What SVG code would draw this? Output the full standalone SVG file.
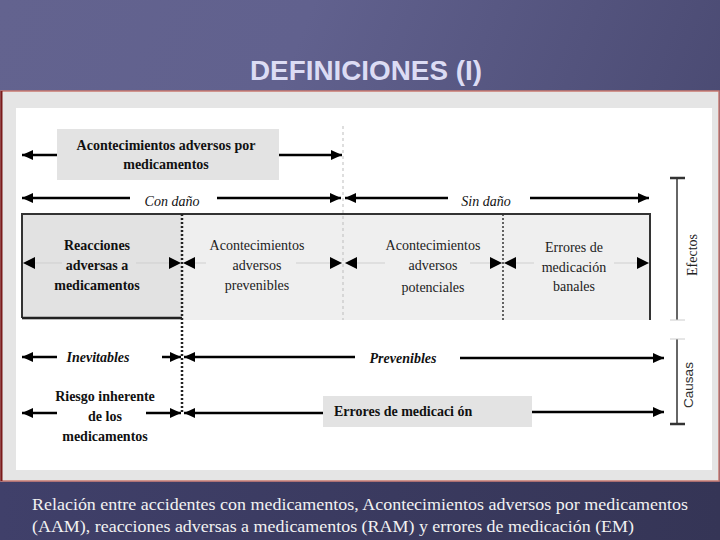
<svg xmlns="http://www.w3.org/2000/svg" width="720" height="540" viewBox="0 0 720 540">
<defs>
<linearGradient id="bg" x1="0" y1="0" x2="1" y2="0.3">
<stop offset="0" stop-color="#63638f"/>
<stop offset="0.4" stop-color="#61618e"/>
<stop offset="1" stop-color="#4a4a72"/>
</linearGradient>
<linearGradient id="bot" x1="0" y1="0" x2="1" y2="0">
<stop offset="0" stop-color="#40406a"/>
<stop offset="1" stop-color="#353556"/>
</linearGradient>
<marker id="ah" markerUnits="userSpaceOnUse" markerWidth="12" markerHeight="10" refX="11" refY="5" orient="auto-start-reverse">
<path d="M0,0 L11,5 L0,10 z" fill="#000"/>
</marker>
<marker id="ab" markerUnits="userSpaceOnUse" markerWidth="12" markerHeight="12" refX="12" refY="6" orient="auto-start-reverse">
<path d="M0,0 L12,6 L0,12 z" fill="#000"/>
</marker>
<style>
.thick{stroke:#000;stroke-width:2.5;fill:none}
.thin{stroke:#cfcfcf;stroke-width:1;fill:none}
.b{font-family:"Liberation Serif","Times New Roman",serif;font-weight:bold;font-size:14px;fill:#111;text-anchor:middle}
.r{font-family:"Liberation Serif","Times New Roman",serif;font-size:14px;fill:#222;text-anchor:middle}
.i{font-family:"Liberation Serif","Times New Roman",serif;font-style:italic;font-size:14px;fill:#111;text-anchor:middle}
.bi{font-family:"Liberation Serif","Times New Roman",serif;font-style:italic;font-weight:bold;font-size:14px;fill:#111;text-anchor:middle}
.cap{font-family:"Liberation Serif","Times New Roman",serif;font-size:16.5px;fill:#f2f2f2}
</style>
</defs>
<rect width="720" height="540" fill="url(#bg)"/>
<rect x="0" y="482" width="720" height="58" fill="url(#bot)"/>
<text x="366" y="80" font-family="'Liberation Sans',Arial,sans-serif" font-weight="bold" font-size="28" fill="#dcdcf4" text-anchor="middle" textLength="232" lengthAdjust="spacingAndGlyphs">DEFINICIONES (I)</text>
<!-- image frame -->
<rect x="1" y="91" width="718" height="390" fill="#e5e5e5" stroke="#c97a70" stroke-width="1.5"/>
<line x1="1.5" y1="91" x2="1.5" y2="481" stroke="#7a1a1a" stroke-width="2"/>
<rect x="16" y="108" width="696" height="362" fill="#ffffff"/>

<!-- main box backgrounds -->
<g id="box">
<rect x="22" y="214" width="628" height="106" fill="#efefef"/>
<rect x="22" y="214" width="160" height="104" fill="#e2e2e2"/>
<path d="M22,318 V214 H650 V320" fill="none" stroke="#333" stroke-width="2"/>
<line x1="22" y1="318" x2="182" y2="318" stroke="#222" stroke-width="2.5"/>
</g>

<g id="dividers">
<line x1="343" y1="126" x2="343" y2="320" stroke="#bdbdbd" stroke-width="1" stroke-dasharray="3,3"/>
<line x1="182" y1="214" x2="182" y2="413" stroke="#222" stroke-width="2.5" stroke-dasharray="2,2"/>
<line x1="503" y1="214" x2="503" y2="322" stroke="#333" stroke-width="1.5" stroke-dasharray="2,2"/>
</g>

<g id="aam">
<rect x="57" y="129" width="222" height="51" fill="#e3e3e3"/>
<text class="b" x="166" y="150">Acontecimientos adversos por</text>
<text class="b" x="166" y="169">medicamentos</text>
</g>

<g id="con-dano"><text class="i" x="172" y="206">Con daño</text></g>
<g id="sin-dano"><text class="i" x="486" y="206">Sin daño</text></g>

<g id="ram">
<text class="b" x="97" y="250">Reacciones</text>
<text class="b" x="97" y="270">adversas a</text>
<text class="b" x="97" y="290">medicamentos</text>
</g>
<g id="aap">
<text class="r" x="257" y="250">Acontecimientos</text>
<text class="r" x="257" y="270">adversos</text>
<text class="r" x="257" y="290">prevenibles</text>
</g>
<g id="aapot">
<text class="r" x="433" y="250">Acontecimientos</text>
<text class="r" x="433" y="270">adversos</text>
<text class="r" x="433" y="292">potenciales</text>
</g>
<g id="em-banales">
<text class="r" x="574" y="252">Errores de</text>
<text class="r" x="574" y="272">medicación</text>
<text class="r" x="574" y="291">banales</text>
</g>

<g id="inevitables"><text class="bi" x="98" y="362">Inevitables</text></g>
<g id="prevenibles"><text class="bi" x="403" y="363">Prevenibles</text></g>
<g id="riesgo">
<text class="b" x="105" y="401">Riesgo inherente</text>
<text class="b" x="105" y="421">de los</text>
<text class="b" x="105" y="441">medicamentos</text>
</g>
<g id="em">
<rect x="323" y="396" width="209" height="31" fill="#e3e3e3"/>
<text class="b" x="334" y="416" style="text-anchor:start">Errores de medicaci ón</text>
</g>

<g id="efectos">
<line x1="677" y1="178" x2="677" y2="320" stroke="#333" stroke-width="1.5"/>
<line x1="670" y1="178" x2="685" y2="178" stroke="#333" stroke-width="2.5"/>
<line x1="670" y1="320" x2="685" y2="320" stroke="#ccc" stroke-width="1"/>
<text class="r" transform="translate(697,255) rotate(-90)" font-size="14">Efectos</text>
</g>
<g id="causas">
<line x1="677" y1="339" x2="677" y2="424" stroke="#333" stroke-width="1.5"/>
<line x1="670" y1="339" x2="685" y2="339" stroke="#ccc" stroke-width="1"/>
<line x1="670" y1="424" x2="685" y2="424" stroke="#333" stroke-width="2.5"/>
<text transform="translate(693,385) rotate(-90)" font-family="'Liberation Sans',Arial,sans-serif" font-size="13.5" fill="#333" text-anchor="middle">Causas</text>
</g>

<g id="connectors">
<!-- AAM -->
<line class="thick" x1="57" y1="155" x2="22" y2="155" marker-end="url(#ah)"/>
<line class="thick" x1="279" y1="155" x2="342" y2="155" marker-end="url(#ah)"/>
<!-- Con daño / Sin daño -->
<line class="thick" x1="130" y1="198" x2="22" y2="198" marker-end="url(#ah)"/>
<line class="thick" x1="217" y1="198" x2="341" y2="198" marker-end="url(#ah)"/>
<line class="thick" x1="448" y1="198" x2="345" y2="198" marker-end="url(#ah)"/>
<line class="thick" x1="530" y1="198" x2="649" y2="198" marker-end="url(#ah)"/>
<!-- inner row -->
<line class="thin" x1="62" y1="263" x2="23" y2="263" marker-end="url(#ab)"/>
<line class="thin" x1="136" y1="263" x2="181" y2="263" marker-end="url(#ab)"/>
<line class="thin" x1="206" y1="263" x2="183" y2="263" marker-end="url(#ab)"/>
<line class="thin" x1="296" y1="263" x2="342" y2="263" marker-end="url(#ab)"/>
<line class="thin" x1="385" y1="263" x2="345" y2="263" marker-end="url(#ab)"/>
<line class="thin" x1="470" y1="263" x2="502" y2="263" marker-end="url(#ab)"/>
<line class="thin" x1="534" y1="263" x2="504" y2="263" marker-end="url(#ab)"/>
<line class="thin" x1="614" y1="263" x2="649" y2="263" marker-end="url(#ab)"/>
<!-- Inevitables / Prevenibles -->
<line class="thick" x1="57" y1="357" x2="22" y2="357" marker-end="url(#ah)"/>
<line class="thick" x1="162" y1="357" x2="181" y2="357" marker-end="url(#ah)"/>
<line class="thick" x1="355" y1="357" x2="184" y2="357" marker-end="url(#ah)"/>
<line class="thick" x1="460" y1="358" x2="664" y2="358" marker-end="url(#ah)"/>
<!-- Riesgo / Errores -->
<line class="thick" x1="57" y1="413" x2="22" y2="413" marker-end="url(#ah)"/>
<line class="thick" x1="146" y1="413" x2="181" y2="413" marker-end="url(#ah)"/>
<line class="thick" x1="323" y1="413" x2="184" y2="413" marker-end="url(#ah)"/>
<line class="thick" x1="532" y1="412" x2="664" y2="412" marker-end="url(#ah)"/>
</g>

<text class="cap" x="32" y="510" textLength="656" lengthAdjust="spacingAndGlyphs">Relación entre accidentes con medicamentos, Acontecimientos adversos por medicamentos</text>
<text class="cap" x="32" y="532" textLength="602" lengthAdjust="spacingAndGlyphs">(AAM), reacciones adversas a medicamentos (RAM) y errores de medicación (EM)</text>
</svg>
